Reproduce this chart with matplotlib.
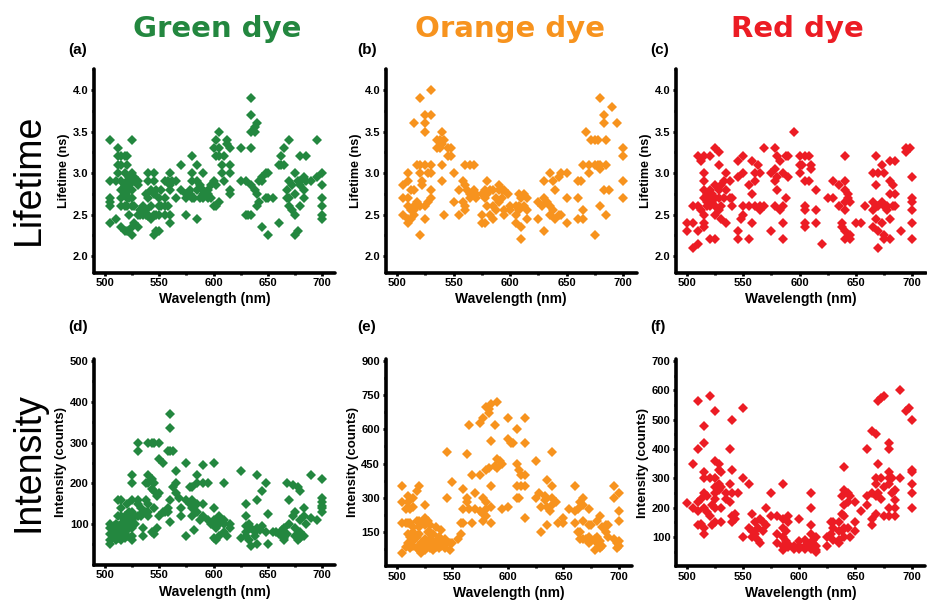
import matplotlib
matplotlib.use("Agg")
import matplotlib.pyplot as plt
from matplotlib.ticker import MultipleLocator

# data: (wavelength nm, [values at that wavelength])
green_life = [
    (505, [3.4, 2.9, 2.7, 2.65, 2.6, 2.4]), (510, [2.9, 2.45]), (512, [3.3, 3.2, 3.1, 3.0]),
    (515, [3.2, 3.1, 2.9, 2.8, 2.7, 2.6, 2.35]), (518, [3.2, 3.0, 2.85, 2.75, 2.6, 2.3]),
    (520, [3.2, 3.1, 2.9, 2.7, 2.6, 2.3]), (522, [2.95, 2.85, 2.8, 2.7, 2.5]),
    (525, [3.4, 3.0, 2.9, 2.8, 2.7, 2.6, 2.25, 2.35]), (527, [2.95, 2.9, 2.6, 2.4]),
    (530, [2.9, 2.85, 2.5, 2.35]), (532, [2.55, 2.5]), (535, [2.6, 2.5]), (538, [2.75, 2.55, 2.5]),
    (540, [3.0, 2.9, 2.7, 2.5, 2.48]), (542, [2.8, 2.6, 2.45]), (545, [3.0, 2.9, 2.75, 2.5, 2.25]),
    (547, [2.8, 2.5, 2.3]), (550, [2.7, 2.6, 2.5, 2.3]), (552, [2.8, 2.6]), (555, [2.9, 2.7, 2.6, 2.5]),
    (558, [2.9, 2.6]), (560, [3.0, 2.85, 2.8, 2.5, 2.4]), (562, [2.9]), (565, [2.9, 2.7]),
    (570, [3.1, 2.8]), (575, [2.75, 2.7, 2.5]), (578, [2.8, 2.75]), (580, [3.2, 3.0, 2.9, 2.7]),
    (582, [2.7]), (585, [3.1, 2.9, 2.8, 2.45]), (588, [2.85, 2.7]), (590, [3.0, 2.8, 2.75, 2.7]),
    (595, [2.8, 2.75, 2.7]), (598, [2.7, 2.85]), (600, [3.3, 2.9, 2.6]), (602, [3.4, 3.2, 2.85, 2.6]),
    (605, [3.5, 3.3, 3.2, 2.65]), (608, [3.1, 3.0]), (610, [3.2, 2.9]), (612, [3.4, 3.35]),
    (615, [3.3, 3.1, 3.0, 2.8, 2.75]), (625, [3.3, 2.9]), (630, [2.9, 2.5]), (632, [2.5]),
    (635, [3.9, 3.7, 3.5, 3.3, 2.85, 2.5]), (638, [3.55, 3.5, 2.8]), (640, [3.6, 2.75, 2.6]),
    (642, [2.9, 2.65]), (645, [2.95, 2.9, 2.35]), (648, [3.0, 2.7]), (650, [3.0, 2.7, 2.25]),
    (655, [2.7]), (660, [3.1, 2.4]), (662, [3.2, 3.1]), (665, [3.3, 3.1]), (668, [2.8, 2.7]),
    (670, [3.4, 2.9, 2.7, 2.6]), (672, [2.85, 2.55]), (675, [3.0, 2.75, 2.5, 2.25]), (678, [2.9, 2.3]),
    (680, [3.2, 2.9, 2.85, 2.6]), (683, [2.95, 2.8, 2.7]), (685, [3.2, 2.9]), (690, [2.9]),
    (695, [3.4, 2.95]), (700, [3.0, 2.85, 2.7, 2.6, 2.5, 2.45]),
]
orange_life = [
    (505, [2.85, 2.7, 2.5]), (510, [3.0, 2.9, 2.7, 2.6, 2.45, 2.4]), (512, [2.8, 2.55, 2.45]),
    (515, [3.6, 2.8, 2.6, 2.55, 2.5]), (518, [3.1, 2.65, 2.6]), (520, [3.9, 3.1, 3.0, 2.6, 2.25]),
    (522, [2.9, 2.85]), (525, [3.7, 3.6, 3.5, 3.1, 2.6, 2.45]), (527, [3.0, 2.65]),
    (530, [4.0, 3.7, 3.1, 3.0, 2.8, 2.7]), (535, [3.4, 3.3]), (538, [3.4, 3.3]),
    (540, [3.5, 3.35, 3.1, 2.9]), (542, [3.4, 2.5]), (545, [3.3, 3.2]), (548, [3.3, 3.2]),
    (550, [3.0, 2.65]), (555, [2.8, 2.5]), (558, [2.9, 2.65]), (560, [3.1, 2.85, 2.6, 2.55]),
    (562, [2.8]), (565, [3.1, 2.75, 2.7]), (568, [3.1, 2.8]), (570, [2.75, 2.7]),
    (575, [2.75, 2.5, 2.4]), (578, [2.8, 2.7, 2.4]), (580, [2.9, 2.75, 2.6]), (582, [2.8, 2.5]),
    (585, [2.8, 2.6, 2.45]), (588, [2.7, 2.55]), (590, [2.85, 2.8, 2.65]), (593, [2.8, 2.7]),
    (595, [2.8, 2.55, 2.5]), (598, [2.75]), (600, [2.6, 2.55]), (605, [2.6, 2.5, 2.4]),
    (608, [2.75, 2.6, 2.55]), (610, [2.7, 2.35, 2.2]), (612, [2.75, 2.6]), (615, [2.7, 2.55, 2.45]),
    (625, [2.65, 2.45]), (628, [2.6]), (630, [2.9, 2.7, 2.3]), (633, [2.65]), (635, [3.0, 2.6, 2.5]),
    (638, [2.9, 2.55]), (640, [2.8, 2.45]), (643, [2.95, 2.5]), (645, [3.0, 2.5]),
    (650, [3.0, 2.7, 2.4]), (660, [2.9, 2.7, 2.45]), (663, [2.9]), (665, [3.1, 2.55, 2.45]),
    (667, [3.5]), (670, [3.1, 3.0]), (672, [3.4]), (675, [3.4, 3.1, 2.25]), (678, [3.4, 3.1]),
    (680, [3.9, 3.1, 3.05, 2.6]), (683, [3.7, 3.6, 2.8]), (685, [3.4, 3.1, 2.5]), (688, [2.8]),
    (690, [3.8]), (695, [3.6]), (700, [3.3, 3.2, 2.9, 2.7]),
]
red_life = [
    (500, [2.4, 2.3]), (505, [2.6, 2.4, 2.1]), (510, [3.2, 2.6, 2.3, 2.15]), (512, [3.15, 2.55]),
    (515, [3.2, 3.0, 2.9, 2.8, 2.7, 2.5, 2.4, 2.35]), (518, [2.75, 2.65, 2.6]),
    (520, [3.2, 2.8, 2.7, 2.6, 2.2]), (522, [2.75, 2.65]), (525, [3.3, 2.85, 2.7, 2.6, 2.5, 2.2]),
    (528, [3.25, 3.1, 2.8, 2.7, 2.55]), (530, [2.85, 2.6, 2.45]), (533, [2.9, 2.7]),
    (535, [3.0, 2.8, 2.4]), (538, [2.9, 2.7]), (540, [2.7, 2.6]), (545, [3.15, 2.95, 2.3, 2.2]),
    (548, [2.45]), (550, [3.2, 3.0, 2.6, 2.5]), (555, [2.85, 2.6, 2.2]), (558, [3.15, 2.75, 2.4]),
    (560, [3.0, 2.9, 2.6]), (563, [3.1]), (565, [3.0, 2.6, 2.55]), (568, [3.3, 2.6]),
    (575, [3.0, 2.3]), (578, [3.3, 3.05, 2.9, 2.6]), (580, [3.2, 2.95, 2.8]), (583, [3.15, 2.55]),
    (585, [3.0, 2.6, 2.4, 2.2]), (588, [3.2, 2.7]), (590, [3.2, 2.95]), (595, [3.5]),
    (600, [3.2, 3.1, 3.0]), (602, [3.1]), (605, [3.2, 2.9, 2.6, 2.55, 2.4, 2.35]), (608, [3.2, 2.9]),
    (610, [3.1, 3.05]), (615, [2.8, 2.55, 2.4]), (620, [2.15]), (625, [2.7]), (630, [2.9, 2.7]),
    (635, [2.85, 2.6]), (638, [2.4, 2.35]), (640, [3.2, 2.9, 2.8, 2.65, 2.55, 2.3, 2.2]),
    (643, [2.75, 2.7]), (645, [2.65, 2.25, 2.2]), (650, [2.4]), (655, [2.4]), (658, [2.6]),
    (665, [3.0, 2.65, 2.55, 2.35]), (668, [3.2, 2.85, 2.6, 2.45]), (670, [3.0, 2.6, 2.3, 2.1]),
    (673, [3.1, 2.65, 2.4]), (675, [3.0, 2.6, 2.25, 2.2]), (678, [2.6, 2.55]),
    (680, [3.15, 2.9, 2.75, 2.45, 2.2]), (683, [2.85, 2.6]), (685, [3.15, 2.75, 2.6]), (690, [2.3]),
    (695, [3.3, 3.25]), (698, [3.3]), (700, [2.95, 2.7, 2.65, 2.55, 2.4, 2.2]),
]
green_int = [
    (505, [100, 90, 75, 60, 50]), (508, [95, 85, 70]), (510, [100, 90, 80, 70, 60]),
    (512, [160, 120, 95, 80, 65]), (515, [160, 140, 120, 100, 85, 70, 60]),
    (518, [120, 110, 90, 75, 65]), (520, [150, 120, 100, 85, 70]), (522, [130, 110, 90]),
    (525, [220, 200, 160, 130, 110, 90, 70, 60]), (528, [120, 100]),
    (530, [300, 280, 160, 150, 120]), (533, [140, 120]), (535, [130, 90, 70]),
    (538, [200, 160, 130]), (540, [300, 220, 200, 150, 130, 120]), (543, [300, 210, 185, 80]),
    (545, [300, 200, 180, 140, 75]), (548, [170, 90]), (550, [300, 260, 175, 120]),
    (553, [250, 130]), (555, [130]), (558, [280, 140, 130]), (560, [370, 335, 280, 160, 105]),
    (563, [280, 190]), (565, [230, 200, 175]), (568, [165]), (570, [140, 120]),
    (575, [250, 160, 70]), (578, [190, 150]), (580, [190, 160, 140, 120]), (582, [85]),
    (585, [220, 200, 150, 130]), (588, [110]), (590, [245, 200, 150, 120]), (595, [200, 110]),
    (598, [100]), (600, [250, 140, 110, 65]), (602, [90, 60]), (605, [120, 100, 70]),
    (610, [200, 110, 100, 80]), (612, [70]), (615, [100, 90]), (625, [230, 65]),
    (630, [150, 120, 95, 80, 70]), (633, [100, 60]), (635, [90, 45]), (638, [80, 70]),
    (640, [220, 160, 90, 50]), (643, [85]), (645, [180, 95]), (648, [200, 80]), (650, [125, 50]),
    (655, [80]), (658, [80]), (660, [75]), (663, [85, 70]), (665, [90, 65, 60]), (668, [200, 75]),
    (670, [160, 100]), (673, [195, 120]), (675, [130, 90, 70]), (678, [190, 60]),
    (680, [180, 110, 80, 65]), (683, [140, 120, 70]), (685, [100]), (690, [220, 115]),
    (695, [110]), (700, [210, 165, 155, 145, 140, 130]),
]
orange_int = [
    (505, [350, 280, 190, 60]), (508, [250, 190, 85]), (510, [310, 280, 190, 140, 100]),
    (512, [250, 190, 130, 80]), (515, [300, 260, 170, 150, 110, 90]), (518, [330, 200, 130, 80]),
    (520, [350, 200, 170, 140, 90, 70]), (522, [190, 100, 60]),
    (525, [270, 210, 180, 120, 100, 80, 70]), (528, [200, 150, 90]),
    (530, [180, 150, 120, 90, 80]), (533, [140, 100, 70]), (535, [170, 110, 85]),
    (538, [130, 100, 80]), (540, [160, 120, 90]), (543, [120, 80]), (545, [500, 300, 100]),
    (548, [100, 70]), (550, [370, 100]), (555, [120]), (558, [190, 140]), (560, [340, 250, 190]),
    (563, [490, 300, 280]), (565, [620, 250]), (568, [400, 190]), (570, [320, 250]),
    (575, [630, 400, 240]), (578, [650, 300, 230, 200]), (580, [700, 420, 280, 250, 220]),
    (583, [690, 670, 430]), (585, [710, 550, 350, 260, 190]), (588, [620, 440]),
    (590, [720, 470, 430]), (593, [460]), (595, [450, 250]), (600, [650, 560, 260]), (603, [540]),
    (605, [540]), (608, [600, 450, 350, 300]), (610, [420, 300]), (612, [400, 350]),
    (615, [650, 540, 400, 350, 210]), (625, [460, 300]), (628, [320]), (630, [260, 150]),
    (633, [310, 290]), (635, [380, 260, 180]), (638, [240]), (640, [500, 350, 300, 270]),
    (643, [280]), (645, [190]), (650, [210, 190]), (655, [250]), (660, [350, 240, 190]),
    (663, [250, 150]), (665, [280, 150, 120]), (668, [300, 270, 200, 120]), (670, [120]),
    (673, [250, 180, 130, 100]), (675, [180, 110]), (678, [120, 70]), (680, [200, 130, 100]),
    (683, [220, 110, 80]), (685, [170, 90]), (688, [180, 150]), (690, [180, 130]),
    (695, [350, 300, 120]), (698, [100, 80]), (700, [320, 240, 200, 110, 90]),
]
red_int = [
    (500, [215]), (505, [350, 200]), (510, [565, 400, 220, 190, 140]), (512, [230, 145]),
    (515, [480, 420, 320, 300, 250, 200, 130, 110]), (518, [240, 185]), (520, [580, 300, 170]),
    (522, [210, 140]), (525, [530, 360, 300, 270, 250, 230, 200, 150]), (528, [350, 330, 280, 260]),
    (530, [320, 270, 200, 150]), (535, [250, 230]), (538, [400, 280, 220]),
    (540, [500, 330, 250, 170, 150]), (543, [180, 160]), (545, [250]), (550, [540, 300, 100]),
    (555, [280, 130]), (558, [180, 120, 100]), (560, [150, 110]), (563, [130, 90]),
    (565, [160, 80]), (568, [150, 120]), (570, [200, 140]), (575, [250, 170]),
    (580, [170, 110, 80]), (585, [280, 160, 130, 100, 70, 55]), (588, [120, 85, 70]),
    (590, [170, 150, 75, 65]), (595, [70, 60]), (600, [160, 85, 70, 60]), (605, [90, 70, 60]),
    (610, [250, 200, 140, 110, 80, 60]), (612, [90, 70]), (615, [100, 70, 55, 50]),
    (625, [100, 70]), (628, [150, 110]), (630, [150, 130, 90]), (635, [150, 120, 90, 80]),
    (638, [240, 180, 120]), (640, [340, 260, 210, 170, 130, 100]), (643, [250, 220, 130]),
    (645, [240, 100]), (650, [220, 150, 120]), (655, [190]), (660, [400, 240, 210]),
    (665, [460, 250, 160, 140]), (668, [450, 300, 280, 240, 180]), (670, [565, 350, 250]),
    (673, [575, 300, 230]), (675, [580, 270, 170]), (680, [420, 400, 320, 300, 280, 200, 170]),
    (683, [300, 250]), (685, [260, 225, 200, 170]), (690, [600, 300]), (695, [530]), (698, [540]),
    (700, [500, 330, 320, 280, 250, 200]),
]

GREEN = '#23873f'
ORANGE = '#f7931e'
RED = '#ec1c24'

W, H = 927, 603
fig = plt.figure(figsize=(W / 100, H / 100), dpi=100)


def px_axes(l, r, t, b):
    return fig.add_axes([l / W, (H - b) / H, (r - l) / W, (b - t) / H])


def expand(groups):
    xs, ys = [], []
    for wl, vals in groups:
        for v in vals:
            xs.append(wl)
            ys.append(v)
    return xs, ys


panels = [
    # data, colour, box(px), ylim, minor step, ylabel, letter, yticks
    (green_life, GREEN, (94.2, 335, 69.3, 272.6), (1.8, 4.25), 0.25, 'Lifetime (ns)', '(a)', [2.0, 2.5, 3.0, 3.5, 4.0]),
    (orange_life, ORANGE, (385.7, 636.6, 69.3, 272.6), (1.8, 4.25), 0.25, 'Lifetime (ns)', '(b)', [2.0, 2.5, 3.0, 3.5, 4.0]),
    (red_life, RED, (675.8, 925.5, 69.3, 272.6), (1.8, 4.25), 0.25, 'Lifetime (ns)', '(c)', [2.0, 2.5, 3.0, 3.5, 4.0]),
    (green_int, GREEN, (94.2, 335, 359, 564.8), (0, 505), 50, 'Intensity (counts)', '(d)', [100, 200, 300, 400, 500]),
    (orange_int, ORANGE, (385.6, 632.4, 358.7, 566.2), (0, 910), 75, 'Intensity (counts)', '(e)', [150, 300, 450, 600, 750, 900]),
    (red_int, RED, (676, 925, 359, 566.3), (0, 707), 50, 'Intensity (counts)', '(f)', [100, 200, 300, 400, 500, 600, 700]),
]
letter_pos = [(68, 50), (357, 50), (650, 50), (68, 327), (357, 327), (650, 327)]

for (data, col, box, ylim, minor, ylab, letter, yt), (lx, ly) in zip(panels, letter_pos):
    ax = px_axes(*box)
    xs, ys = expand(data)
    ax.plot(xs, ys, 'D', color=col, ms=5.0, mew=0, clip_on=False)
    ax.set_xlim(490, 712)
    ax.set_ylim(*ylim)
    ax.set_xticks([500, 550, 600, 650, 700])
    ax.xaxis.set_minor_locator(MultipleLocator(25))
    ax.set_yticks(yt)
    ax.yaxis.set_minor_locator(MultipleLocator(minor))
    for s in ['top', 'right']:
        ax.spines[s].set_visible(False)
    for s in ['left', 'bottom']:
        ax.spines[s].set_linewidth(2.6)
        ax.spines[s].set_capstyle('round')
    ax.tick_params(which='major', direction='out', length=2.5, width=2, pad=1.5,
                   labelsize=8)
    ax.tick_params(which='minor', direction='out', length=1.5, width=2)
    for lab in ax.get_xticklabels() + ax.get_yticklabels():
        lab.set_fontweight('bold')
        lab.set_family('Liberation Sans')
    ax.set_xlabel('Wavelength (nm)', fontsize=10, fontweight='bold',
                  family='Liberation Sans', labelpad=3)
    ax.set_ylabel(ylab, fontsize=9 if 'Life' in ylab else 9.5, fontweight='bold',
                  family='Liberation Sans', labelpad=2)
    fig.text(lx / W, 1 - ly / H, letter, fontsize=11, fontweight='bold',
             family='Liberation Sans', ha='left', va='center')

titles = [('Green dye', GREEN, 217), ('Orange dye', ORANGE, 510), ('Red dye', RED, 797)]
for txt, col, cx in titles:
    fig.text(cx / W, 1 - 37 / H, txt, color=col, fontsize=21, fontweight='bold',
             family='DejaVu Sans', ha='center', va='baseline')

fig.text(29 / W, 1 - 179 / H, 'Lifetime', rotation=90, fontsize=27,
         family='Liberation Sans', ha='center', va='center')
fig.text(28 / W, 1 - 462 / H, 'Intensity', rotation=90, fontsize=27,
         family='Liberation Sans', ha='center', va='center')

fig.savefig('out.png', dpi=100)
